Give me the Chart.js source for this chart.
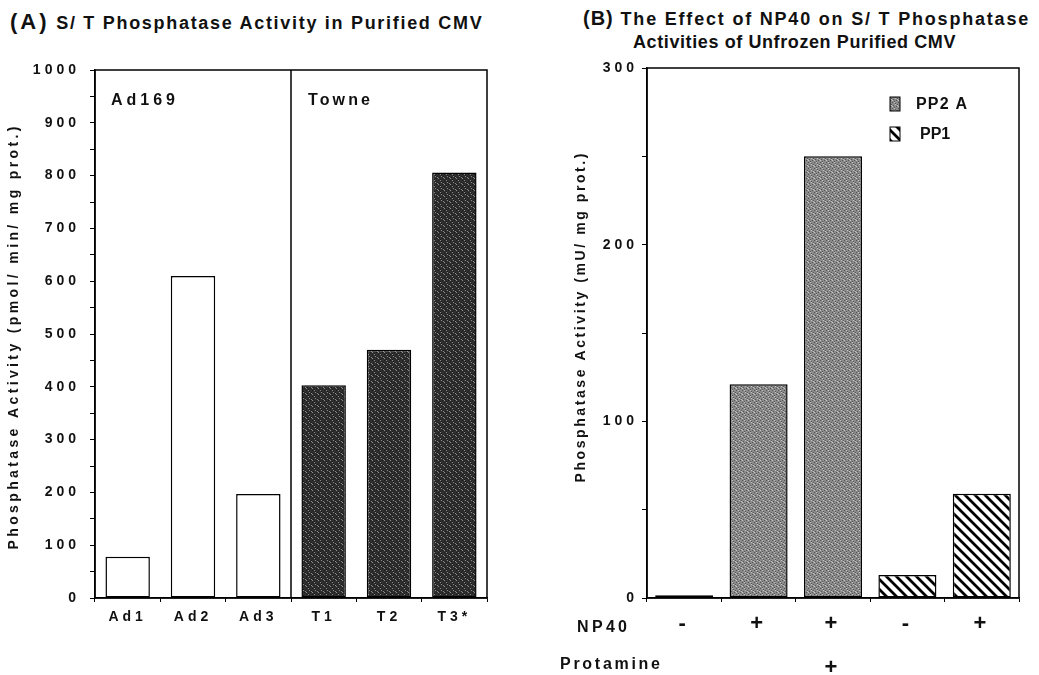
<!DOCTYPE html>
<html>
<head>
<meta charset="utf-8">
<script src="https://cdn.jsdelivr.net/npm/chart.js@4.4.1/dist/chart.umd.min.js"></script>
<style>
  body { margin: 0; background: #fff; width: 1039px; height: 675px; position: relative; overflow: hidden; }
  canvas { position: absolute; top: 0; }
  #chartA { left: 0; }
  #chartB { left: 520px; }
  .ttl { position: absolute; white-space: nowrap; font-family: "Liberation Sans", Arial, sans-serif; font-weight: bold; color: #111; line-height: 20px; }
</style>
</head>
<body>
<div class="ttl" style="left:10px; top:12px; font-size:18px; letter-spacing:1.7px;"><span style="font-size:22px; letter-spacing:3px;">(A)</span>&nbsp;S/ T Phosphatase Activity in Purified CMV</div>
<div class="ttl" style="left:583px; top:8px; font-size:18px; letter-spacing:1.8px;"><span style="font-size:20px; letter-spacing:1px;">(B)</span> The Effect of NP40 on S/ T Phosphatase</div>
<div class="ttl" style="left:633px; top:32px; font-size:18px; letter-spacing:0.6px;">Activities of Unfrozen Purified CMV</div>

<canvas id="chartA" width="520" height="675"></canvas>
<canvas id="chartB" width="519" height="675"></canvas>

<script>
// Panel A: purified virus preparations
const strains = ['Ad1', 'Ad2', 'Ad3', 'T1', 'T2', 'T3*'];
const strainActivity = [78, 610, 197, 403, 470, 806];
const strainGroups = ['Ad169', 'Ad169', 'Ad169', 'Towne', 'Towne', 'Towne'];
const yTicksA = [0, 100, 200, 300, 400, 500, 600, 700, 800, 900, 1000];

// Panel B: NP40 / protamine treatments
const np40 = ['-', '+', '+', '-', '+'];
const protamine = ['', '', '+', '', ''];
const pp2a = [1.5, 121, 250, null, null];
const pp1 = [null, null, null, 13, 59];
const yTicksB = [0, 100, 200, 300];

const FONT = '"Liberation Sans", Arial, sans-serif';

// fill patterns, like the old stippled / hatched print
function stipple(base, dark, light) {
  const c = document.createElement('canvas');
  c.width = 6; c.height = 6;
  const g = c.getContext('2d');
  g.fillStyle = base;
  g.fillRect(0, 0, 6, 6);
  g.fillStyle = dark;
  [[0, 0], [3, 1], [1, 3], [4, 4], [5, 2], [2, 5]].forEach(p => g.fillRect(p[0], p[1], 1, 1));
  g.fillStyle = light;
  [[2, 0], [5, 3], [0, 4], [3, 2]].forEach(p => g.fillRect(p[0], p[1], 1, 1));
  return g.createPattern(c, 'repeat');
}

function hatch() {
  const s = 10;
  const c = document.createElement('canvas');
  c.width = s; c.height = s;
  const g = c.getContext('2d');
  g.fillStyle = '#fff';
  g.fillRect(0, 0, s, s);
  g.strokeStyle = '#000';
  g.lineWidth = 2.8;
  g.beginPath();
  g.moveTo(-1, -1); g.lineTo(s + 1, s + 1);
  g.moveTo(-1, s - 1); g.lineTo(1, s + 1);
  g.moveTo(s - 1, -1); g.lineTo(s + 1, 1);
  g.stroke();
  return g.createPattern(c, 'repeat');
}

const townePattern = stipple('#2f2f2f', '#1a1a1a', '#8c8c8c');
const pp2aPattern = stipple('#8a8a8a', '#555', '#c4c4c4');
const pp1Pattern = hatch();

// draw text spread out to a given width (the print is very letter-spaced)
function spread(ctx, text, cx, cy, width, font) {
  ctx.font = font;
  ctx.letterSpacing = '0px';
  const w = ctx.measureText(text).width;
  const s = Math.max(0, (width - w) / (text.length - 1));
  ctx.letterSpacing = s + 'px';
  ctx.textAlign = 'left';
  ctx.textBaseline = 'middle';
  ctx.fillText(text, cx - width / 2, cy);
  ctx.letterSpacing = '0px';
}

const spacing = {
  id: 'spacing',
  beforeDraw(chart) { chart.ctx.letterSpacing = '4px'; }
};

function axisY(max, labels, pad, width) {
  return {
    min: 0,
    max: max,
    border: { display: true, color: '#000', width: 1.5 },
    grid: { display: true, drawOnChartArea: false, drawTicks: true, tickLength: 5, color: '#000' },
    ticks: {
      stepSize: 50,
      color: '#111',
      padding: pad,
      font: { family: FONT, size: 14, weight: 'bold' },
      callback: v => labels.includes(v) ? String(v) : ''
    },
    afterFit: s => { s.width = width; }
  };
}

// ---------- Panel A ----------
const panelA = {
  id: 'panelA',
  afterDatasetsDraw(chart) {
    const ctx = chart.ctx;
    const a = chart.chartArea;
    const x = chart.scales.x;
    ctx.save();
    ctx.strokeStyle = '#000';
    ctx.lineWidth = 1.5;
    ctx.strokeRect(a.left, a.top, a.right - a.left, a.bottom - a.top);
    // divider between the two strains
    const split = strainGroups.indexOf('Towne');
    const xd = (x.getPixelForValue(split - 1) + x.getPixelForValue(split)) / 2;
    ctx.beginPath();
    ctx.moveTo(xd, a.top);
    ctx.lineTo(xd, a.bottom);
    ctx.stroke();
    ctx.fillStyle = '#111';
    spread(ctx, strainGroups[0], a.left + 48, a.top + 31, 64, 'bold 16px ' + FONT);
    spread(ctx, strainGroups[split], xd + 48, a.top + 31, 62, 'bold 16px ' + FONT);
    ctx.translate(14, 338);
    ctx.rotate(-Math.PI / 2);
    spread(ctx, 'Phosphatase Activity (pmol/ min/ mg prot.)', 0, 0, 423, 'bold 14px ' + FONT);
    ctx.restore();
  }
};

new Chart(document.getElementById('chartA'), {
  type: 'bar',
  data: {
    labels: strains,
    datasets: [{
      label: 'Activity',
      data: strainActivity,
      backgroundColor: strainGroups.map(g => g === 'Towne' ? townePattern : '#fff'),
      borderColor: '#000',
      borderWidth: 1.5,
      borderSkipped: false,
      barPercentage: 0.68,
      categoryPercentage: 1
    }]
  },
  options: {
    responsive: false,
    animation: false,
    events: [],
    layout: { padding: { top: 70, right: 33, left: 0, bottom: 0 } },
    plugins: { legend: { display: false }, tooltip: { enabled: false } },
    scales: {
      x: {
        border: { display: true, color: '#000', width: 1.5 },
        grid: { display: true, drawOnChartArea: false, tickLength: 4, color: '#000' },
        ticks: { color: '#111', padding: 7, font: { family: FONT, size: 14, weight: 'bold' } },
        afterFit: s => { s.height = 77; }
      },
      y: axisY(1000, yTicksA, 10, 95)
    }
  },
  plugins: [spacing, panelA]
});

// ---------- Panel B ----------
const panelB = {
  id: 'panelB',
  afterDatasetsDraw(chart) {
    const ctx = chart.ctx;
    const a = chart.chartArea;
    ctx.save();
    ctx.strokeStyle = '#000';
    ctx.lineWidth = 1.5;
    ctx.strokeRect(a.left, a.top, a.right - a.left, a.bottom - a.top);
    // legend
    chart.data.datasets.forEach((ds, i) => {
      const bx = a.left + 243, by = a.top + 29 + i * 30;
      ctx.fillStyle = ds.backgroundColor;
      ctx.fillRect(bx, by, 10, 14);
      ctx.lineWidth = 1;
      ctx.strokeRect(bx, by, 10, 14);
      ctx.fillStyle = '#111';
      const w = i === 0 ? 51 : 30;
      const tx = i === 0 ? bx + 26 : bx + 30;
      spread(ctx, ds.label, tx + w / 2, by + 8, w, 'bold 16px ' + FONT);
    });
    // treatment row names
    spread(ctx, 'NP40', 82, 628, 50, 'bold 16px ' + FONT);
    spread(ctx, 'Protamine', 90, 665, 100, 'bold 16px ' + FONT);
    ctx.translate(61, 318);
    ctx.rotate(-Math.PI / 2);
    spread(ctx, 'Phosphatase Activity (mU/ mg prot.)', 0, 0, 329, 'bold 14px ' + FONT);
    ctx.restore();
  }
};

new Chart(document.getElementById('chartB'), {
  type: 'bar',
  data: {
    labels: np40.map((s, i) => [s, protamine[i]]),
    datasets: [
      { label: 'PP2 A', data: pp2a, backgroundColor: pp2aPattern },
      { label: 'PP1', data: pp1, backgroundColor: pp1Pattern }
    ].map(d => Object.assign(d, {
      borderColor: '#000', borderWidth: 1.5, borderSkipped: false,
      barPercentage: 0.78, categoryPercentage: 1
    }))
  },
  options: {
    responsive: false,
    animation: false,
    events: [],
    layout: { padding: { top: 68, right: 20, left: 0, bottom: 0 } },
    plugins: { legend: { display: false }, tooltip: { enabled: false } },
    scales: {
      x: {
        stacked: true,
        border: { display: true, color: '#000', width: 1.5 },
        grid: { display: true, drawOnChartArea: false, tickLength: 4, color: '#000' },
        ticks: { color: '#111', padding: 0, font: { family: FONT, size: 22, weight: 'bold', lineHeight: 2 } },
        afterFit: s => { s.height = 77; }
      },
      y: axisY(300, yTicksB, 4, 127)
    }
  },
  plugins: [spacing, panelB]
});
</script>
</body>
</html>
